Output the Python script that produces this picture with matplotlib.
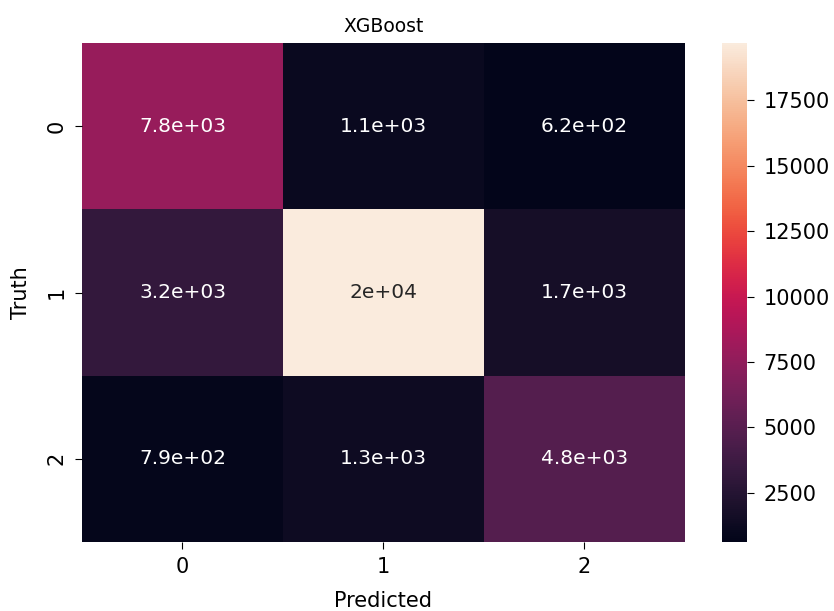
import numpy as np
import seaborn as sns
from matplotlib import pyplot as plt

classes = ['0', '1', '2']
cm = np.array([
    [7800, 1100, 620],
    [3200, 19690, 1700],
    [790, 1300, 4800],
])

fig = plt.figure(figsize=(8.34, 6.11), dpi=100)
ax = fig.add_axes([0.0983, 0.1129, 0.723, 0.8167])
cax = fig.add_axes([0.8657, 0.1129, 0.030, 0.8167])

sns.heatmap(cm, annot=True, ax=ax, cbar_ax=cax,
            xticklabels=classes, yticklabels=classes,
            annot_kws={'fontsize': 14.5})

ax.set_title('XGBoost', fontsize=13.5, pad=8)
ax.set_xlabel('Predicted', fontsize=15, labelpad=10)
ax.set_ylabel('Truth', fontsize=15, labelpad=11)
ax.tick_params(labelsize=15, length=5, pad=6)
cax.tick_params(labelsize=15, length=5, pad=7)

fig.savefig('out.png')
